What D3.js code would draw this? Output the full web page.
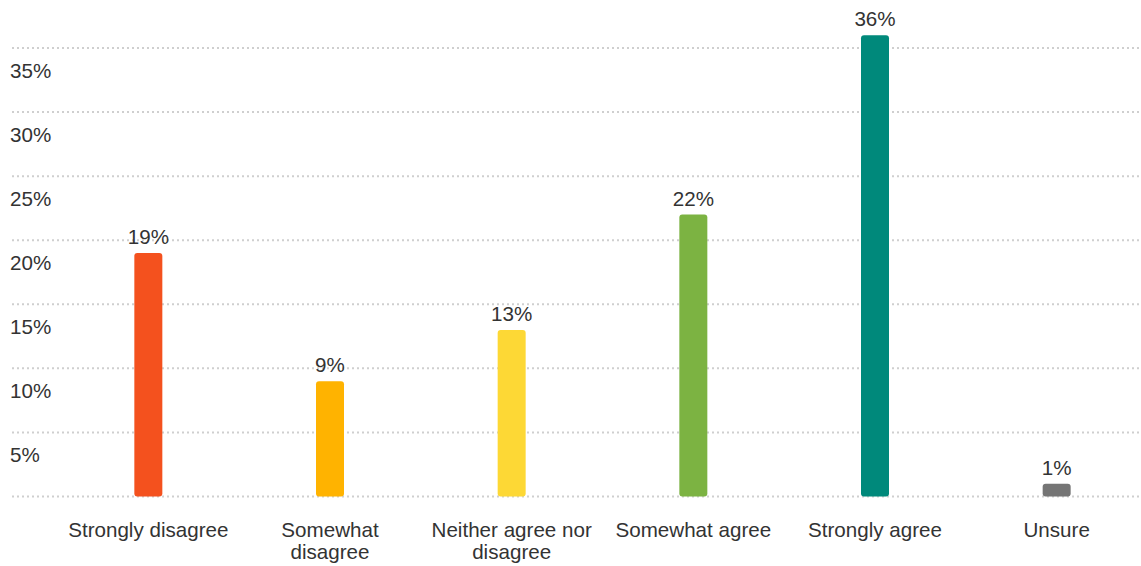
<!DOCTYPE html>
<html>
<head>
<meta charset="utf-8">
<script src="https://cdn.jsdelivr.net/npm/d3@7"></script>
<style>
  html, body { margin: 0; padding: 0; background: #fff; }
  svg { display: block; font-family: "Liberation Sans", Arial, sans-serif; }
</style>
</head>
<body>
<svg id="chart" width="1141" height="566"></svg>
<script>
// Survey response shares (percent)
const categories = ["Strongly disagree", "Somewhat disagree", "Neither agree nor disagree", "Somewhat agree", "Strongly agree", "Unsure"];
const values = [19, 9, 13, 22, 36, 1];
const colors = ["#f4511e", "#ffb300", "#fdd835", "#7cb342", "#00897b", "#757575"];
const yTicks = [0, 5, 10, 15, 20, 25, 30, 35];

const W = 1141, H = 566;
const fontSize = 20.6;
const svg = d3.select("#chart");

const x = d3.scaleBand().domain(categories).range([57.5, 1147.5]).paddingInner(0).paddingOuter(0);
const y = d3.scaleLinear().domain([0, 35]).range([496.5, 48]);
const barW = 28;

// Dotted horizontal gridlines
svg.append("g").selectAll("line").data(yTicks).join("line")
  .attr("x1", 12).attr("x2", W)
  .attr("y1", d => y(d)).attr("y2", d => y(d))
  .attr("stroke", "#cfcfcf").attr("stroke-width", 2)
  .attr("stroke-dasharray", "2,3");

// Y tick labels sit just under their gridline
svg.append("g").selectAll("text").data(yTicks.filter(d => d > 0)).join("text")
  .attr("x", 10).attr("y", d => y(d) + 30)
  .attr("font-size", fontSize).attr("fill", "#333")
  .text(d => d + "%");

// Bars
const cx = c => x(c) + x.bandwidth() / 2;
svg.append("g").selectAll("rect").data(categories).join("rect")
  .attr("x", (c) => cx(c) - barW / 2)
  .attr("y", (c, i) => y(values[i]))
  .attr("width", barW)
  .attr("height", (c, i) => y(0) - y(values[i]))
  .attr("rx", 3).attr("ry", 3)
  .attr("fill", (c, i) => colors[i]);

// Value labels above bars
svg.append("g").selectAll("text").data(categories).join("text")
  .attr("x", c => cx(c))
  .attr("y", (c, i) => y(values[i]) - 9)
  .attr("text-anchor", "middle")
  .attr("font-size", fontSize).attr("fill", "#333")
  .text((c, i) => values[i] + "%");

// Category labels, wrapped to fit the band
const wrapWidth = 168;
const catG = svg.append("g");
categories.forEach(c => {
  const t = catG.append("text")
    .attr("x", cx(c)).attr("y", 537)
    .attr("text-anchor", "middle")
    .attr("font-size", fontSize).attr("fill", "#333");
  const words = c.split(" ");
  let line = [];
  let tspan = t.append("tspan").attr("x", cx(c)).attr("dy", 0);
  words.forEach(w => {
    line.push(w);
    tspan.text(line.join(" "));
    if (tspan.node().getComputedTextLength() > wrapWidth && line.length > 1) {
      line.pop();
      tspan.text(line.join(" "));
      line = [w];
      tspan = t.append("tspan").attr("x", cx(c)).attr("dy", 22).text(w);
    }
  });
});
</script>
</body>
</html>
